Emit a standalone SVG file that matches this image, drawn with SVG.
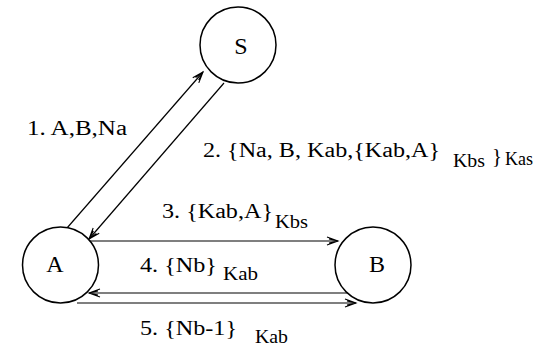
<svg xmlns="http://www.w3.org/2000/svg" width="543" height="348" viewBox="0 0 543 348">
<style>
.node{fill:#fff;stroke:#000;stroke-width:1.5}
.edge{fill:none;stroke:#000;stroke-width:1.2;marker-end:url(#arr)}
text{font-family:"Liberation Serif","Times New Roman",serif;fill:#000}
.lbl{font-size:20px}
.sub{font-size:18px}
.nl{font-size:24px;text-anchor:middle}
</style>
<defs>
<marker id="arr" markerWidth="14" markerHeight="10" refX="12" refY="5" orient="auto" markerUnits="userSpaceOnUse">
<path d="M1,1 L12,5 L1,9 M3,3 L12,5 L3,7" fill="none" stroke="#000" stroke-width="1.1"/>
</marker>
</defs>
<rect width="543" height="348" fill="#fff"/>
<g id="connectors">
<line class="edge" x1="67" y1="228" x2="203" y2="72"/>
<line class="edge" x1="224" y1="83" x2="89" y2="239"/>
<line class="edge" x1="89" y1="241" x2="338" y2="241"/>
<line class="edge" x1="357" y1="293" x2="89" y2="293"/>
<line class="edge" x1="77" y1="303" x2="356" y2="303"/>
</g>
<g id="node-S">
<circle class="node" cx="238" cy="45" r="38"/>
<text class="nl" x="241" y="54">S</text>
</g>
<g id="node-A">
<circle class="node" cx="60.5" cy="265" r="38"/>
<text class="nl" x="55" y="272">A</text>
</g>
<g id="node-B">
<circle class="node" cx="373" cy="265" r="38"/>
<text class="nl" x="377" y="272">B</text>
</g>
<g id="labels">
<text class="lbl" x="27" y="135" textLength="100" lengthAdjust="spacingAndGlyphs">1. A,B,Na</text>
<text class="lbl" x="203" y="157" textLength="237" lengthAdjust="spacingAndGlyphs">2. {Na, B, Kab,{Kab,A}</text>
<text class="sub" x="453" y="167" textLength="32" lengthAdjust="spacingAndGlyphs">Kbs</text>
<text class="lbl" x="492" y="163" textLength="10" lengthAdjust="spacingAndGlyphs">}</text>
<text class="sub" x="505" y="165" textLength="28" lengthAdjust="spacingAndGlyphs">Kas</text>
<text class="lbl" x="162" y="218" textLength="111" lengthAdjust="spacingAndGlyphs">3. {Kab,A}</text>
<text class="sub" x="275" y="228" textLength="33" lengthAdjust="spacingAndGlyphs">Kbs</text>
<text class="lbl" x="140" y="272" textLength="77" lengthAdjust="spacingAndGlyphs">4. {Nb}</text>
<text class="sub" x="223" y="280" textLength="35" lengthAdjust="spacingAndGlyphs">Kab</text>
<text class="lbl" x="140" y="335" textLength="97" lengthAdjust="spacingAndGlyphs">5. {Nb-1}</text>
<text class="sub" x="255" y="343" textLength="33" lengthAdjust="spacingAndGlyphs">Kab</text>
</g>
</svg>
